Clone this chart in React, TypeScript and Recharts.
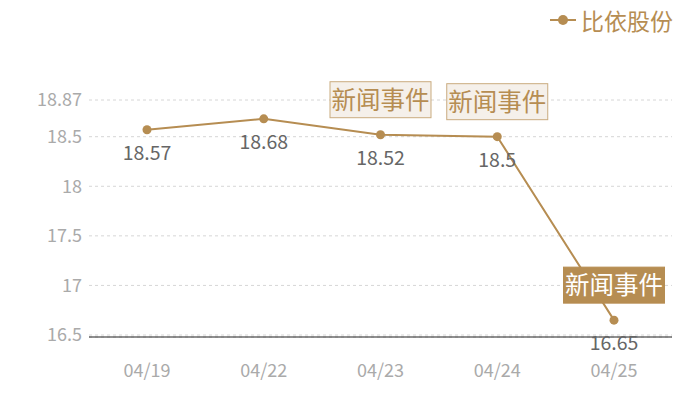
import React from 'react';
import {
  LineChart, Line, XAxis, YAxis, CartesianGrid, LabelList,
} from 'recharts';

const dates = ['04/19', '04/22', '04/23', '04/24', '04/25'];
const prices = [18.57, 18.68, 18.52, 18.5, 16.65];
const yTicks = [16.5, 17, 17.5, 18, 18.5, 18.87];
const newsDates = ['04/23', '04/24', '04/25'];
const activeNews = '04/25';
const seriesName = '比依股份';
const newsText = '新闻事件';

const GOLD = '#b68d52';
const FONT = '"Noto Sans CJK SC", "Noto Sans", sans-serif';

const data = dates.map((d, i) => ({ date: d, price: prices[i] }));

const PriceLabel = (props: any) => {
  const { x, y, value } = props;
  return (
    <text x={x} y={y + 30} textAnchor="middle" fill="#666" fontSize={19.5} fontFamily={FONT}>
      {value}
    </text>
  );
};

const NewsLabel = (props: any) => {
  const { x, y, index } = props;
  const d = dates[index];
  if (!newsDates.includes(d)) return null;
  const active = d === activeNews;
  const w = 101;
  const h = 36;
  const bx = x - w / 2;
  const by = y - 17 - h;
  return (
    <g>
      <rect
        x={bx} y={by} width={w} height={h}
        fill={active ? GOLD : '#f5f0ea'}
        stroke={active ? GOLD : '#c9ab7f'}
        strokeWidth={1}
      />
      <text
        x={x} y={by + h / 2 + 9} textAnchor="middle"
        fill={active ? '#fff' : GOLD} fontSize={24.5} fontFamily={FONT}
      >
        {newsText}
      </text>
    </g>
  );
};

export default function App() {
  return (
    <div style={{ position: 'absolute', left: 0, top: 0, width: 700, height: 400, fontFamily: FONT }}>
      <div
        style={{
          position: 'absolute', top: 3, right: 27, display: 'flex', alignItems: 'center', zIndex: 1,
        }}
      >
        <svg width={28} height={12}>
          <line x1={0} y1={6} x2={26} y2={6} stroke={GOLD} strokeWidth={2} />
          <circle cx={13} cy={6} r={5} fill={GOLD} />
        </svg>
        <span style={{ color: GOLD, fontSize: 23, marginLeft: 3 }}>{seriesName}</span>
      </div>
      <LineChart
        width={700}
        height={400}
        data={data}
        margin={{ top: 100, right: 28, left: 0, bottom: 0 }}
      >
        <CartesianGrid vertical={false} stroke="#d6d6d6" strokeDasharray="3 3" />
        <XAxis
          dataKey="date"
          height={63}
          axisLine={{ stroke: '#222', strokeWidth: 1.2 }}
          tickLine={false}
          tick={{ fill: '#aaa', fontSize: 18, fontFamily: FONT }}
          tickMargin={21}
          padding={{ left: 58, right: 58 }}
        />
        <YAxis
          width={89}
          domain={[16.48, 18.87]}
          ticks={yTicks}
          axisLine={false}
          tickLine={false}
          tick={{ fill: '#aaa', fontSize: 18, fontFamily: FONT }}
          tickMargin={1}
          allowDataOverflow
        />
        <Line
          dataKey="price"
          name={seriesName}
          stroke={GOLD}
          strokeWidth={2}
          dot={{ r: 4.5, fill: GOLD, stroke: GOLD, strokeWidth: 0 }}
          isAnimationActive={false}
        >
          <LabelList dataKey="price" content={PriceLabel} />
          <LabelList dataKey="price" content={NewsLabel} />
        </Line>
      </LineChart>
    </div>
  );
}
